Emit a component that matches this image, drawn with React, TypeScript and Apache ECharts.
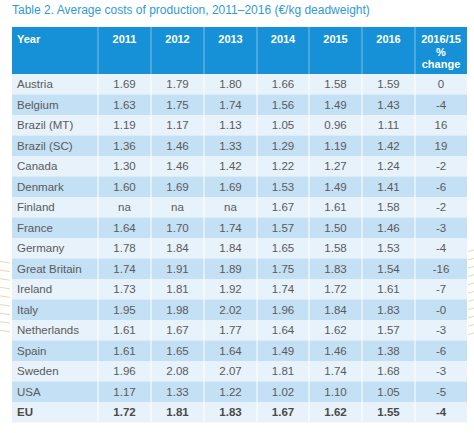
import React, { useEffect, useRef } from "react";
import * as echarts from "echarts";

const title = "Table 2. Average costs of production, 2011–2016 (€/kg deadweight)";
const headers = ["Year", "2011", "2012", "2013", "2014", "2015", "2016"];
const changeHeader = ["2016/15", "%", "change"];
const countries = ["Austria", "Belgium", "Brazil (MT)", "Brazil (SC)", "Canada", "Denmark", "Finland", "France", "Germany", "Great Britain", "Ireland", "Italy", "Netherlands", "Spain", "Sweden", "USA", "EU"];
const v2011 = ["1.69", "1.63", "1.19", "1.36", "1.30", "1.60", "na", "1.64", "1.78", "1.74", "1.73", "1.95", "1.61", "1.61", "1.96", "1.17", "1.72"];
const v2012 = ["1.79", "1.75", "1.17", "1.46", "1.46", "1.69", "na", "1.70", "1.84", "1.91", "1.81", "1.98", "1.67", "1.65", "2.08", "1.33", "1.81"];
const v2013 = ["1.80", "1.74", "1.13", "1.33", "1.42", "1.69", "na", "1.74", "1.84", "1.89", "1.92", "2.02", "1.77", "1.64", "2.07", "1.22", "1.83"];
const v2014 = ["1.66", "1.56", "1.05", "1.29", "1.22", "1.53", "1.67", "1.57", "1.65", "1.75", "1.74", "1.96", "1.64", "1.49", "1.81", "1.02", "1.67"];
const v2015 = ["1.58", "1.49", "0.96", "1.19", "1.27", "1.49", "1.61", "1.50", "1.58", "1.83", "1.72", "1.84", "1.62", "1.46", "1.74", "1.10", "1.62"];
const v2016 = ["1.59", "1.43", "1.11", "1.42", "1.24", "1.41", "1.58", "1.46", "1.53", "1.54", "1.61", "1.83", "1.57", "1.38", "1.68", "1.05", "1.55"];
const pctChange = ["0", "-4", "16", "19", "-2", "-6", "-2", "-3", "-4", "-16", "-7", "-0", "-3", "-6", "-3", "-5", "-4"];

const FONT = "Liberation Sans, Arial, Helvetica, sans-serif";

export default function App() {
  const ref = useRef<HTMLDivElement>(null);
  useEffect(() => {
    if (!ref.current) return;
    const chart = echarts.init(ref.current, null, { renderer: "svg" });
    const left = 12;
    const colEdges = [12, 98, 151, 204, 257, 309, 362, 415, 467];
    const headTop = 27;
    const headBottom = 74;
    const rowH = 20.5;
    const columns = [v2011, v2012, v2013, v2014, v2015, v2016, pctChange];
    const els: any[] = [];

    // decorative side strokes
    for (let i = 0; i < 9; i++) {
      const y = 263 + i * 8.6;
      els.push({ type: "line", shape: { x1: 0, y1: y - 1.5, x2: 10, y2: y }, style: { stroke: "#d9d39a", lineWidth: 0.8 } });
    }
    for (let i = 0; i < 11; i++) {
      const y = 250 + i * 8.3;
      els.push({ type: "line", shape: { x1: 468, y1: y + 1.5, x2: 474, y2: y }, style: { stroke: "#d9d39a", lineWidth: 0.8 } });
    }

    els.push({
      type: "text", x: left, y: 10,
      style: { text: title, fill: "#2f9ad8", font: `12px ${FONT}`, textVerticalAlign: "middle", textAlign: "left" },
    });

    // header
    els.push({ type: "rect", shape: { x: colEdges[0], y: headTop, width: colEdges[8] - colEdges[0], height: headBottom - headTop }, style: { fill: "#1690d6" } });
    headers.forEach((h, i) => {
      const cx = i === 0 ? 17 : (colEdges[i] + colEdges[i + 1]) / 2;
      els.push({
        type: "text", x: cx, y: 39,
        style: { text: h, fill: "#ffffff", font: `bold 11px ${FONT}`, textAlign: i === 0 ? "left" : "center", textVerticalAlign: "middle" },
      });
    });
    changeHeader.forEach((h, k) => {
      els.push({
        type: "text", x: (colEdges[7] + colEdges[8]) / 2, y: 39 + k * 12.7,
        style: { text: h, fill: "#ffffff", font: `bold 11px ${FONT}`, textAlign: "center", textVerticalAlign: "middle" },
      });
    });

    // body rows
    countries.forEach((c, r) => {
      const y0 = headBottom + r * rowH;
      const isEU = c === "EU";
      els.push({ type: "rect", shape: { x: colEdges[0], y: y0, width: colEdges[8] - colEdges[0], height: rowH }, style: { fill: r % 2 === 0 ? "#e7f2fb" : "#c4e0f5" } });
      const font = `${isEU ? "bold " : ""}11.5px ${FONT}`;
      const fill = isEU ? "#4a4a4a" : "#5a5a5a";
      els.push({ type: "text", x: 17, y: y0 + rowH / 2, style: { text: c, fill, font, textAlign: "left", textVerticalAlign: "middle" } });
      columns.forEach((col, j) => {
        els.push({
          type: "text", x: (colEdges[j + 1] + colEdges[j + 2]) / 2, y: y0 + rowH / 2,
          style: { text: col[r], fill, font, textAlign: "center", textVerticalAlign: "middle" },
        });
      });
    });

    const bottom = headBottom + countries.length * rowH;
    for (let i = 1; i < 8; i++) {
      els.push({ type: "line", shape: { x1: colEdges[i], y1: headTop, x2: colEdges[i], y2: headBottom }, style: { stroke: "rgba(255,255,255,0.45)", lineWidth: 1 } });
      els.push({ type: "line", shape: { x1: colEdges[i], y1: headBottom, x2: colEdges[i], y2: bottom }, style: { stroke: "#ffffff", lineWidth: 1 } });
    }

    chart.setOption({ animation: false, graphic: { elements: els } });
    return () => chart.dispose();
  }, []);
  return <div ref={ref} style={{ position: "absolute", left: 0, top: 0, width: 474, height: 433, background: "#ffffff" }} />;
}
